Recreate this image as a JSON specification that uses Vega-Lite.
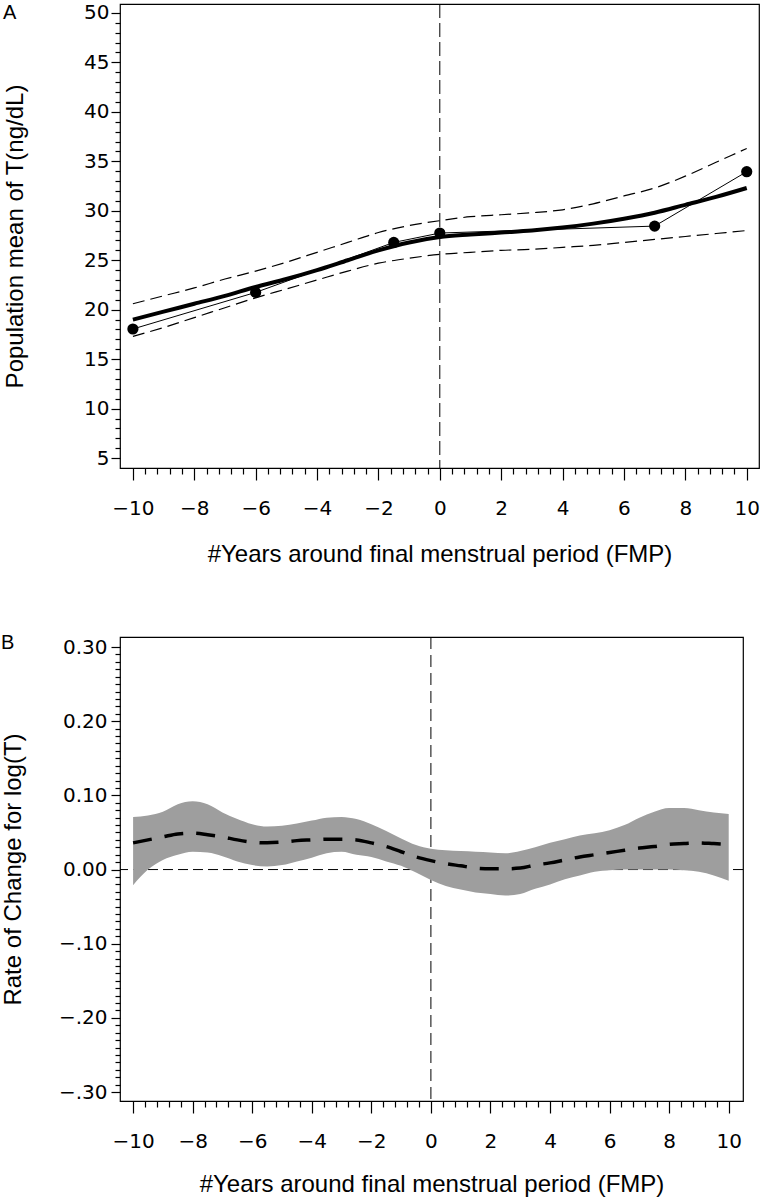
{
  "$schema": "https://vega.github.io/schema/vega-lite/v6.json",
  "background": "white",
  "padding": {"top": 2, "left": 0, "right": 0, "bottom": 0},
  "bounds": "flush",
  "spacing": 169,
  "datasets": {
    "fitA": [
      {"x": -10, "fit": 19.0, "lo": 17.3, "hi": 20.6},
      {"x": -9, "fit": 19.8, "lo": 18.2, "hi": 21.4},
      {"x": -8, "fit": 20.6, "lo": 19.2, "hi": 22.2},
      {"x": -7, "fit": 21.4, "lo": 20.2, "hi": 23.1},
      {"x": -6, "fit": 22.3, "lo": 21.2, "hi": 23.9},
      {"x": -5, "fit": 23.1, "lo": 22.1, "hi": 24.8},
      {"x": -4, "fit": 24.0, "lo": 23.0, "hi": 25.8},
      {"x": -3, "fit": 25.0, "lo": 23.9, "hi": 26.8},
      {"x": -2, "fit": 26.0, "lo": 24.7, "hi": 27.8},
      {"x": -1, "fit": 26.8, "lo": 25.2, "hi": 28.5},
      {"x": 0, "fit": 27.35, "lo": 25.6, "hi": 29.0},
      {"x": 1, "fit": 27.6, "lo": 25.8, "hi": 29.4},
      {"x": 2, "fit": 27.8, "lo": 26.0, "hi": 29.6},
      {"x": 3, "fit": 28.0, "lo": 26.1, "hi": 29.8},
      {"x": 4, "fit": 28.3, "lo": 26.3, "hi": 30.1},
      {"x": 5, "fit": 28.7, "lo": 26.5, "hi": 30.7},
      {"x": 6, "fit": 29.2, "lo": 26.8, "hi": 31.5},
      {"x": 7, "fit": 29.8, "lo": 27.1, "hi": 32.3},
      {"x": 8, "fit": 30.6, "lo": 27.4, "hi": 33.5},
      {"x": 9, "fit": 31.4, "lo": 27.7, "hi": 34.9},
      {"x": 10, "fit": 32.3, "lo": 28.0, "hi": 36.3}
    ],
    "obsA": [
      {"x": -10, "y": 18.05},
      {"x": -6, "y": 21.75},
      {"x": -1.5, "y": 26.8},
      {"x": 0, "y": 27.75},
      {"x": 7, "y": 28.45},
      {"x": 10, "y": 33.95}
    ],
    "rateB": [
      {"x": -10, "mean": 0.036, "hi": 0.071, "lo": -0.021},
      {"x": -9.5, "mean": 0.040, "hi": 0.073, "lo": 0.000},
      {"x": -9, "mean": 0.044, "hi": 0.078, "lo": 0.013},
      {"x": -8.5, "mean": 0.048, "hi": 0.088, "lo": 0.020},
      {"x": -8, "mean": 0.049, "hi": 0.092, "lo": 0.024},
      {"x": -7.5, "mean": 0.047, "hi": 0.088, "lo": 0.023},
      {"x": -7, "mean": 0.044, "hi": 0.077, "lo": 0.018},
      {"x": -6.5, "mean": 0.040, "hi": 0.068, "lo": 0.011},
      {"x": -6, "mean": 0.037, "hi": 0.061, "lo": 0.006},
      {"x": -5.5, "mean": 0.036, "hi": 0.058, "lo": 0.004},
      {"x": -5, "mean": 0.037, "hi": 0.059, "lo": 0.006},
      {"x": -4.5, "mean": 0.039, "hi": 0.062, "lo": 0.011},
      {"x": -4, "mean": 0.040, "hi": 0.066, "lo": 0.016},
      {"x": -3.5, "mean": 0.041, "hi": 0.070, "lo": 0.022},
      {"x": -3, "mean": 0.041, "hi": 0.071, "lo": 0.024},
      {"x": -2.5, "mean": 0.040, "hi": 0.068, "lo": 0.020},
      {"x": -2, "mean": 0.036, "hi": 0.061, "lo": 0.017},
      {"x": -1.5, "mean": 0.031, "hi": 0.052, "lo": 0.011},
      {"x": -1, "mean": 0.024, "hi": 0.042, "lo": 0.005},
      {"x": -0.5, "mean": 0.017, "hi": 0.033, "lo": -0.004},
      {"x": 0, "mean": 0.012, "hi": 0.028, "lo": -0.014},
      {"x": 0.5, "mean": 0.008, "hi": 0.026, "lo": -0.022},
      {"x": 1, "mean": 0.005, "hi": 0.025, "lo": -0.027},
      {"x": 1.5, "mean": 0.002, "hi": 0.024, "lo": -0.031},
      {"x": 2, "mean": 0.001, "hi": 0.023, "lo": -0.033},
      {"x": 2.5, "mean": 0.001, "hi": 0.022, "lo": -0.035},
      {"x": 3, "mean": 0.002, "hi": 0.025, "lo": -0.033},
      {"x": 3.5, "mean": 0.006, "hi": 0.030, "lo": -0.026},
      {"x": 4, "mean": 0.009, "hi": 0.036, "lo": -0.020},
      {"x": 4.5, "mean": 0.013, "hi": 0.041, "lo": -0.013},
      {"x": 5, "mean": 0.017, "hi": 0.046, "lo": -0.008},
      {"x": 5.5, "mean": 0.020, "hi": 0.049, "lo": -0.003},
      {"x": 6, "mean": 0.023, "hi": 0.053, "lo": -0.001},
      {"x": 6.5, "mean": 0.026, "hi": 0.060, "lo": 0.000},
      {"x": 7, "mean": 0.029, "hi": 0.070, "lo": 0.000},
      {"x": 7.5, "mean": 0.031, "hi": 0.078, "lo": 0.000},
      {"x": 8, "mean": 0.034, "hi": 0.083, "lo": 0.000},
      {"x": 8.5, "mean": 0.035, "hi": 0.083, "lo": -0.001},
      {"x": 9, "mean": 0.036, "hi": 0.080, "lo": -0.003},
      {"x": 9.5, "mean": 0.035, "hi": 0.077, "lo": -0.008},
      {"x": 10, "mean": 0.034, "hi": 0.075, "lo": -0.015}
    ],
    "zeroX": [{"x": 0}],
    "zeroY": [{"y": 0}]
  },
  "vconcat": [
    {
      "width": 639,
      "height": 464,
      "title": {"text": "A", "anchor": "start", "frame": "bounds", "orient": "top", "offset": 0, "fontSize": 20, "fontWeight": "normal", "font": "Liberation Sans", "color": "black", "baseline": "top", "dy": 20},
      "resolve": {"axis": {"x": "independent", "y": "independent"}},
      "layer": [
        {
          "data": {"name": "zeroX"},
          "mark": {"type": "rule", "color": "black", "strokeWidth": 1, "strokeDash": [14, 5]},
          "encoding": {
            "x": {"field": "x", "type": "quantitative", "scale": {"domain": [-10.42, 10.4], "nice": false, "zero": false},
              "axis": {"orient": "bottom", "values": [-10, -8, -6, -4, -2, 0, 2, 4, 6, 8, 10], "tickSize": 12, "labelPadding": 18, "labelFlush": false, "labelOverlap": false, "title": "#Years around final menstrual period (FMP)", "titleY": 93, "titleBaseline": "alphabetic"}}
          }
        },
        {
          "data": {"name": "fitA"},
          "mark": {"type": "line", "color": "black", "strokeWidth": 1.2, "strokeDash": [12, 6], "interpolate": "monotone"},
          "encoding": {
            "x": {"field": "x", "type": "quantitative", "scale": {"domain": [-10.42, 10.4], "nice": false, "zero": false},
              "axis": {"orient": "bottom", "values": [-9.6, -9.2, -8.8, -8.4, -7.6, -7.2, -6.8, -6.4, -5.6, -5.2, -4.8, -4.4, -3.6, -3.2, -2.8, -2.4, -1.6, -1.2, -0.8, -0.4, 0.4, 0.8, 1.2, 1.6, 2.4, 2.8, 3.2, 3.6, 4.4, 4.8, 5.2, 5.6, 6.4, 6.8, 7.2, 7.6, 8.4, 8.8, 9.2, 9.6], "tickSize": 6, "labels": false, "title": null}},
            "y": {"field": "hi", "type": "quantitative", "scale": {"domain": [4, 50.9], "nice": false, "zero": false},
              "axis": {"orient": "left", "values": [5, 10, 15, 20, 25, 30, 35, 40, 45, 50], "tickSize": 9, "labelPadding": 2, "labelOverlap": false, "title": "Population mean of T(ng/dL)", "titleX": -98, "titleBaseline": "alphabetic"}}
          }
        },
        {
          "data": {"name": "fitA"},
          "mark": {"type": "line", "color": "black", "strokeWidth": 1.2, "strokeDash": [12, 6], "interpolate": "monotone"},
          "encoding": {
            "x": {"field": "x", "type": "quantitative", "scale": {"domain": [-10.42, 10.4], "nice": false, "zero": false}, "axis": null},
            "y": {"field": "lo", "type": "quantitative", "scale": {"domain": [4, 50.9], "nice": false, "zero": false},
              "axis": {"orient": "left", "values": [6, 7, 8, 9, 11, 12, 13, 14, 16, 17, 18, 19, 21, 22, 23, 24, 26, 27, 28, 29, 31, 32, 33, 34, 36, 37, 38, 39, 41, 42, 43, 44, 46, 47, 48, 49], "tickSize": 5, "labels": false, "title": null}}
          }
        },
        {
          "data": {"name": "obsA"},
          "mark": {"type": "line", "color": "black", "strokeWidth": 1},
          "encoding": {
            "x": {"field": "x", "type": "quantitative", "scale": {"domain": [-10.42, 10.4], "nice": false, "zero": false}, "axis": null},
            "y": {"field": "y", "type": "quantitative", "scale": {"domain": [4, 50.9], "nice": false, "zero": false}, "axis": null}
          }
        },
        {
          "data": {"name": "fitA"},
          "mark": {"type": "line", "color": "black", "strokeWidth": 4, "interpolate": "monotone"},
          "encoding": {
            "x": {"field": "x", "type": "quantitative", "scale": {"domain": [-10.42, 10.4], "nice": false, "zero": false}, "axis": null},
            "y": {"field": "fit", "type": "quantitative", "scale": {"domain": [4, 50.9], "nice": false, "zero": false}, "axis": null}
          }
        },
        {
          "data": {"name": "obsA"},
          "mark": {"type": "point", "filled": true, "shape": "circle", "color": "black", "opacity": 1, "size": 125},
          "encoding": {
            "x": {"field": "x", "type": "quantitative", "scale": {"domain": [-10.42, 10.4], "nice": false, "zero": false}, "axis": null},
            "y": {"field": "y", "type": "quantitative", "scale": {"domain": [4, 50.9], "nice": false, "zero": false}, "axis": null}
          }
        }
      ]
    },
    {
      "width": 623,
      "height": 464,
      "title": {"text": "B", "anchor": "start", "frame": "bounds", "orient": "top", "offset": 0, "fontSize": 20, "fontWeight": "normal", "font": "Liberation Sans", "color": "black", "baseline": "top", "dy": 16},
      "resolve": {"axis": {"x": "independent", "y": "independent"}},
      "layer": [
        {
          "data": {"name": "zeroX"},
          "mark": {"type": "rule", "color": "black", "strokeWidth": 1, "strokeDash": [12, 6]},
          "encoding": {
            "x": {"field": "x", "type": "quantitative", "scale": {"domain": [-10.44, 10.48], "nice": false, "zero": false},
              "axis": {"orient": "bottom", "values": [-10, -8, -6, -4, -2, 0, 2, 4, 6, 8, 10], "tickSize": 12, "labelPadding": 18, "labelFlush": false, "labelOverlap": false, "title": "#Years around final menstrual period (FMP)", "titleY": 90, "titleBaseline": "alphabetic"}}
          }
        },
        {
          "data": {"name": "zeroY"},
          "mark": {"type": "rule", "color": "black", "strokeWidth": 1, "strokeDash": [10, 5]},
          "encoding": {
            "y": {"field": "y", "type": "quantitative", "scale": {"domain": [-0.312, 0.3135], "nice": false, "zero": false},
              "axis": {"orient": "left", "values": [-0.3, -0.2, -0.1, 0, 0.1, 0.2, 0.3], "tickSize": 9, "labelPadding": 4, "labelOverlap": false, "labelExpr": "datum.value < -0.001 ? '−' + replace(format(abs(datum.value), '.2f'), '0.', '.') : format(abs(datum.value), '.2f')", "title": "Rate of Change for log(T)", "titleX": -100, "titleBaseline": "alphabetic"}}
          }
        },
        {
          "data": {"name": "rateB"},
          "mark": {"type": "area", "color": "#9e9e9e", "opacity": 1, "interpolate": "monotone"},
          "encoding": {
            "x": {"field": "x", "type": "quantitative", "scale": {"domain": [-10.44, 10.48], "nice": false, "zero": false},
              "axis": {"orient": "bottom", "values": [-9.6, -9.2, -8.8, -8.4, -7.6, -7.2, -6.8, -6.4, -5.6, -5.2, -4.8, -4.4, -3.6, -3.2, -2.8, -2.4, -1.6, -1.2, -0.8, -0.4, 0.4, 0.8, 1.2, 1.6, 2.4, 2.8, 3.2, 3.6, 4.4, 4.8, 5.2, 5.6, 6.4, 6.8, 7.2, 7.6, 8.4, 8.8, 9.2, 9.6], "tickSize": 6, "labels": false, "title": null}},
            "y": {"field": "hi", "type": "quantitative", "scale": {"domain": [-0.312, 0.3135], "nice": false, "zero": false},
              "axis": {"orient": "left", "values": [-0.29, -0.28, -0.27, -0.26, -0.25, -0.24, -0.23, -0.22, -0.21, -0.19, -0.18, -0.17, -0.16, -0.15, -0.14, -0.13, -0.12, -0.11, -0.09, -0.08, -0.07, -0.06, -0.05, -0.04, -0.03, -0.02, -0.01, 0.01, 0.02, 0.03, 0.04, 0.05, 0.06, 0.07, 0.08, 0.09, 0.11, 0.12, 0.13, 0.14, 0.15, 0.16, 0.17, 0.18, 0.19, 0.21, 0.22, 0.23, 0.24, 0.25, 0.26, 0.27, 0.28, 0.29], "tickSize": 5, "labels": false, "title": null}},
            "y2": {"field": "lo"}
          }
        },
        {
          "data": {"name": "rateB"},
          "mark": {"type": "line", "color": "black", "strokeWidth": 3.5, "strokeDash": [19, 13], "interpolate": "monotone"},
          "encoding": {
            "x": {"field": "x", "type": "quantitative", "scale": {"domain": [-10.44, 10.48], "nice": false, "zero": false}, "axis": null},
            "y": {"field": "mean", "type": "quantitative", "scale": {"domain": [-0.312, 0.3135], "nice": false, "zero": false}, "axis": null}
          }
        }
      ]
    }
  ],
  "config": {
    "view": {"stroke": "black", "strokeWidth": 1.2},
    "axis": {
      "domain": false,
      "grid": false,
      "tickColor": "black",
      "tickWidth": 1.2,
      "labelColor": "black",
      "titleColor": "black",
      "labelFont": "DejaVu Sans",
      "titleFont": "Liberation Sans",
      "labelFontSize": 20,
      "titleFontSize": 24,
      "titleFontWeight": "normal"
    }
  }
}
